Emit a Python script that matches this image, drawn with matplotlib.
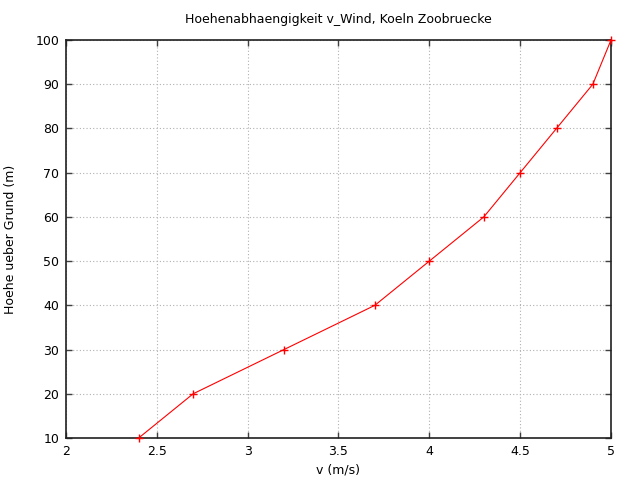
import matplotlib
matplotlib.use("Agg")
import matplotlib.pyplot as plt

# wind speed profile, Koeln Zoobruecke
v_wind = [2.4, 2.7, 3.2, 3.7, 4.0, 4.3, 4.5, 4.7, 4.9, 5.0]
hoehe = [10, 20, 30, 40, 50, 60, 70, 80, 90, 100]
x_ticks = [2, 2.5, 3, 3.5, 4, 4.5, 5]
y_ticks = [10, 20, 30, 40, 50, 60, 70, 80, 90, 100]

plt.rcParams['font.family'] = ['DejaVu Sans']
plt.rcParams['font.size'] = 9

fig = plt.figure(figsize=(6.4, 4.8), dpi=100)
ax = fig.add_axes([66 / 640, 1 - 438 / 480, (611 - 66) / 640, (438 - 40) / 480])

ax.plot(v_wind, hoehe, color="red", linewidth=0.8, marker="+",
        markersize=6, markeredgewidth=1, clip_on=False, zorder=3)

ax.set_xlim(2, 5)
ax.set_ylim(10, 100)
ax.set_xticks(x_ticks)
ax.set_xticklabels(["2", "2.5", "3", "3.5", "4", "4.5", "5"])
ax.set_yticks(y_ticks)

ax.grid(True, color="#b0b0b0", linestyle=(0, (1, 2)), linewidth=0.8)
ax.tick_params(direction="in", top=True, right=True, length=4, width=1,
               color="#404040", pad=5)
for s in ax.spines.values():
    s.set_linewidth(1.2)
    s.set_color("#202020")

ax.set_title("Hoehenabhaengigkeit v_Wind, Koeln Zoobruecke", fontsize=9, pad=12)
ax.set_xlabel("v (m/s)", labelpad=4)
ax.set_ylabel("Hoehe ueber Grund (m)", labelpad=13)

fig.savefig("out.png", dpi=100)
